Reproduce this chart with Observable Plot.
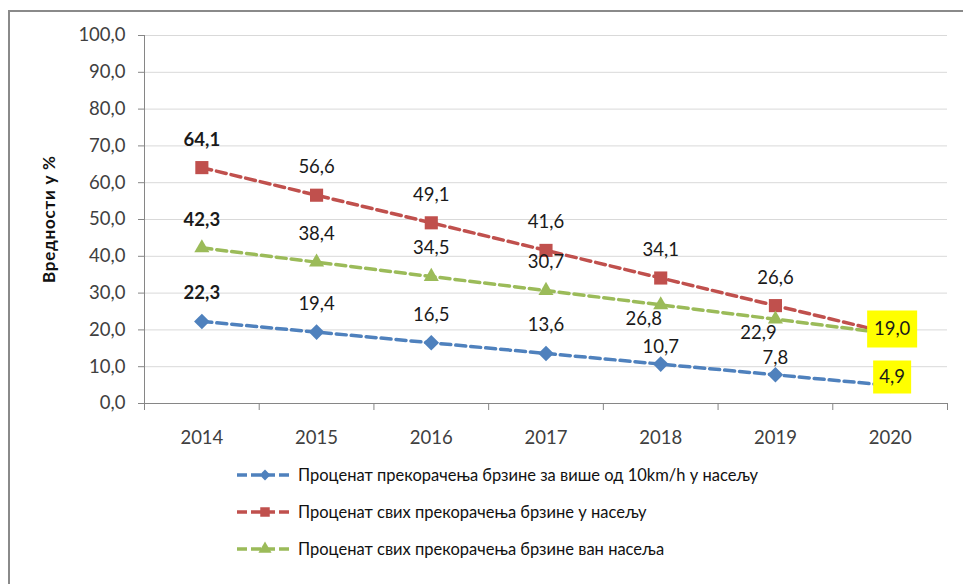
<!DOCTYPE html>
<html>
<head>
<meta charset="utf-8">
<script src="https://cdn.jsdelivr.net/npm/d3@7"></script>
<script src="https://cdn.jsdelivr.net/npm/@observablehq/plot@0.6"></script>
<style>
  html, body { margin: 0; padding: 0; background: #fff; }
  #wrap { position: relative; width: 963px; height: 584px; overflow: hidden; font-family: Lato, "Noto Sans", sans-serif; }
  #frame { position: absolute; left: 8px; top: 10px; width: 980px; height: 620px; border: 2px solid #8a8a8a; box-sizing: border-box; }
  #chart { position: absolute; left: 0; top: 0; }
  .lg-row { position: absolute; left: 237px; height: 20px; display: flex; align-items: center; }
  .lg-row span { margin-left: 7px; font-size: 16.5px; color: #111; white-space: nowrap; }
</style>
</head>
<body>
<div id="wrap">
  <div id="frame"></div>
  <div id="chart"></div>
  <div id="legend"></div>
</div>
<script>
// ---- data ----
const years = [2014, 2015, 2016, 2017, 2018, 2019, 2020];
const seriesNames = [
  "Проценат прекорачења брзине за више од 10km/h у насељу",
  "Проценат свих прекорачења брзине у насељу",
  "Проценат свих прекорачења брзине ван насеља"
];
const over10Inside = [22.3, 19.4, 16.5, 13.6, 10.7, 7.8, 4.9];
const allInside = [64.1, 56.6, 49.1, 41.6, 34.1, 26.6, 19.1];
const allOutside = [42.3, 38.4, 34.5, 30.7, 26.8, 22.9, 19.0];
const yTicks = [0, 10, 20, 30, 40, 50, 60, 70, 80, 90, 100];
const yTitle = "Вредности у %";

// ---- styling ----
const seriesValues = [over10Inside, allInside, allOutside];
const colors = ["#4F81BD", "#C0504D", "#9BBB59"];
const symbolTypes = ["diamond2", "square", "triangle"];
const symbolR = [7, 7.4, 5.6];
const legendSymbols = [d3.symbolDiamond2, d3.symbolSquare, d3.symbolTriangle];
const legendSizes = [75, 90, 75];
const labelPlacement = [
  ["boldAbove", "above", "above", "above", "near", "near", "boxNarrow"],
  ["boldAbove", "above", "above", "above", "above", "above", "none"],
  ["boldAbove", "above", "above", "above", "belowLeft", "belowLeft", "boxWide"]
];
const placements = {
  boldAbove: {dx: 0, dy: -28, bold: true},
  above: {dx: 0, dy: -28},
  near: {dx: 0, dy: -17},
  belowLeft: {dx: -17, dy: 14},
  boxWide: {dx: 2, dy: -4.5, box: [50, 37]},
  boxNarrow: {dx: 2, dy: -8.5, box: [38, 33]}
};

const fmt = v => v.toFixed(1).replace(".", ",");
const rows = seriesNames.flatMap((s, i) => years.map((yr, j) => ({
  series: s, year: yr, value: seriesValues[i][j], place: labelPlacement[i][j]
})));
const xBounds = years.map(y => y - 0.5).concat([years[years.length - 1] + 0.5]);
const rectSymbol = (w, h) => ({draw(ctx) { ctx.rect(-w / 2, -h / 2, w, h); }});

const marks = [
  Plot.gridY(yTicks.filter(d => d > 0), {stroke: "#D9D9D9", strokeOpacity: 1}),
  Plot.ruleX([xBounds[0]], {y1: yTicks[0], y2: yTicks[yTicks.length - 1], stroke: "#868686"}),
  Plot.ruleY([yTicks[0]], {stroke: "#868686"}),
  Plot.axisY(yTicks, {tickSize: 6, tickPadding: 13, tickFormat: fmt, stroke: "#868686", fill: "#404040", label: null}),
  Plot.axisX(xBounds, {tickSize: 7, tickFormat: () => "", stroke: "#868686", label: null}),
  Plot.axisX(years, {tickSize: 0, tickPadding: 27.5, tickFormat: d => String(d), fill: "#404040", label: null}),
  Plot.text([yTitle], {frameAnchor: "left", dx: -95, rotate: -90, fontWeight: "bold", fontSize: 17, fill: "#111"}),
  Plot.line(rows, {x: "year", y: "value", z: "series", stroke: "series", strokeWidth: 3.5, strokeDasharray: "10,5"})
];
seriesNames.forEach((s, i) => {
  marks.push(Plot.dot(rows.filter(d => d.series === s), {
    x: "year", y: "value", symbol: symbolTypes[i], r: symbolR[i], fill: colors[i], stroke: "none"
  }));
});
Object.entries(placements).forEach(([kind, p]) => {
  const sel = rows.filter(d => d.place === kind);
  if (p.box) {
    marks.push(Plot.dot(sel, {x: "year", y: "value", dx: p.dx, dy: p.dy, r: 5,
      symbol: rectSymbol(p.box[0], p.box[1]), fill: "#FFFF00", stroke: "none"}));
  }
  marks.push(Plot.text(sel, {x: "year", y: "value", text: d => fmt(d.value), dx: p.dx, dy: p.dy,
    fill: "#1a1a1a", fontWeight: p.bold ? "bold" : "normal"}));
});

const chart = Plot.plot({
  width: 963, height: 584,
  marginLeft: 144, marginRight: 16, marginTop: 35, marginBottom: 181,
  x: {type: "linear", domain: [xBounds[0], xBounds[xBounds.length - 1]]},
  y: {domain: [yTicks[0], yTicks[yTicks.length - 1]]},
  color: {domain: seriesNames, range: colors},
  style: {fontFamily: "Lato, 'Noto Sans', sans-serif", fontSize: "18.5px", background: "transparent", overflow: "visible"},
  marks
});
document.getElementById("chart").appendChild(chart);
// stretch the axis title to the reference length, centred on the frame
const titleLen = 127;
d3.select(chart).selectAll("text").filter(function() { return this.textContent === yTitle; })
  .attr("text-anchor", "start").attr("x", -titleLen / 2)
  .attr("textLength", titleLen).attr("lengthAdjust", "spacing");

// legend
const legend = document.getElementById("legend");
const rowTops = [465, 502, 539];
seriesNames.forEach((s, i) => {
  const row = document.createElement("div");
  row.className = "lg-row";
  row.style.top = rowTops[i] + "px";
  const svg = d3.create("svg").attr("width", 54).attr("height", 20);
  svg.append("line").attr("x1", 0).attr("x2", 54).attr("y1", 10).attr("y2", 10)
    .attr("stroke", colors[i]).attr("stroke-width", 3.5).attr("stroke-dasharray", "10,4");
  svg.append("path").attr("d", d3.symbol(legendSymbols[i], legendSizes[i])())
    .attr("transform", "translate(28,10)").attr("fill", colors[i]);
  row.appendChild(svg.node());
  const t = document.createElement("span");
  t.textContent = s;
  row.appendChild(t);
  legend.appendChild(row);
});
</script>
</body>
</html>
